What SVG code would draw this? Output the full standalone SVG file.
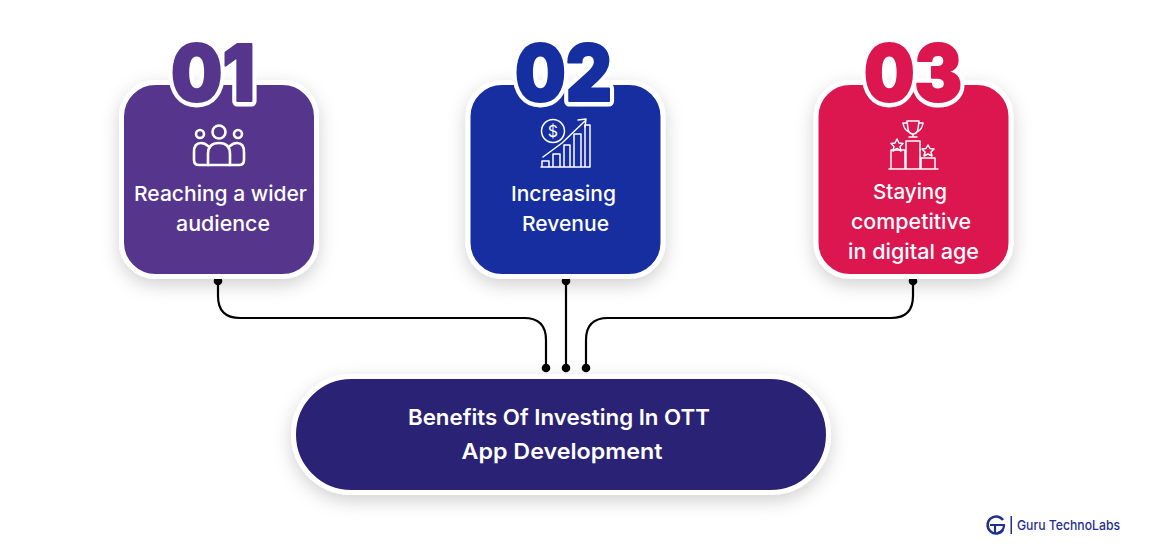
<svg xmlns="http://www.w3.org/2000/svg" width="1159" height="553" viewBox="0 0 1159 553">
<defs>
<style>
.card{stroke:#fff;stroke-width:5;filter:url(#sh)}
.num{font-family:Inter,"Liberation Sans",sans-serif;font-weight:900;font-size:79px;text-anchor:middle}
.halo{stroke:#fff;stroke-width:11px;stroke-linejoin:round}
.fat{stroke-width:2px;stroke-linejoin:round}
.lbl{font-family:Inter,"Open Sans","Liberation Sans",sans-serif;font-weight:500;font-size:20.500px;fill:#fff;text-anchor:middle}
.ttl{font-family:Inter,"Open Sans","Liberation Sans",sans-serif;font-weight:600;font-size:22px;fill:#fff;text-anchor:middle}
.ic{fill:none;stroke:#fff;stroke-width:1.500;stroke-linejoin:round;stroke-linecap:round}
.ic2{fill:none;stroke:#fff;stroke-width:2.600;stroke-linejoin:round;stroke-linecap:round}
.c{fill:none;stroke:#000;stroke-width:2.200}
</style>
<filter id="sh" x="-20%" y="-20%" width="140%" height="145%"><feDropShadow dx="0" dy="6" stdDeviation="9" flood-color="#000" flood-opacity="0.18"/></filter>
</defs>
<rect width="1159" height="553" fill="#fff"/>
<g id="connectors">
<path class="c" d="M218 281V296Q218 318 240 318H524Q546 318 546 340V368"/>
<path class="c" d="M566 281V368"/>
<path class="c" d="M913 281V296Q913 318 891 318H608Q586 318 586 340V368"/>
<g fill="#000"><circle cx="218" cy="281" r="4.300"/><circle cx="566" cy="281" r="4.300"/><circle cx="913" cy="281" r="4.300"/><circle cx="546" cy="368" r="4.300"/><circle cx="566" cy="368" r="4.300"/><circle cx="586" cy="368" r="4.300"/></g>
</g>
<g id="node1">
<rect class="card" x="121.500" y="82.500" width="195" height="194" rx="34" fill="#56368d"/>
<text class="num halo" x="213" y="101" textLength="84" lengthAdjust="spacingAndGlyphs" fill="#fff">01</text>
<text class="num fat" x="213" y="101" textLength="84" lengthAdjust="spacingAndGlyphs" fill="#56368d" stroke="#56368d">01</text>
<g class="ic2">
<circle cx="219" cy="132" r="6.500"/><circle cx="200" cy="134" r="4"/><circle cx="238" cy="134" r="4"/>
<path d="M208 165V154Q208 143 219 143Q230 143 230 154V165Z"/>
<path d="M208 146Q205 143 201 143Q194 143 194 152V160Q194 165 199 165H208"/>
<path d="M230 146Q233 143 237 143Q244 143 244 152V160Q244 165 239 165H230"/>
</g>
<text class="lbl" x="220.500" y="201" textLength="173" lengthAdjust="spacingAndGlyphs">Reaching a wider</text>
<text class="lbl" x="223" y="231" textLength="94" lengthAdjust="spacingAndGlyphs">audience</text>
</g>
<g id="node2">
<rect class="card" x="468" y="82.500" width="195" height="194" rx="34" fill="#152ea0"/>
<text class="num halo" x="563.500" y="101" textLength="97" lengthAdjust="spacingAndGlyphs" fill="#fff">02</text>
<text class="num fat" x="563.500" y="101" textLength="97" lengthAdjust="spacingAndGlyphs" fill="#152ea0" stroke="#152ea0">02</text>
<g class="ic">
<circle cx="553" cy="131" r="11.500"/>
<text x="553" y="137" font-family="Inter,'Liberation Sans',sans-serif" font-size="16" fill="#fff" stroke="none" text-anchor="middle">$</text>
<path d="M543 157L562 143L585 121M578 120L586 119L585 127"/>
<path d="M542 167V161H549V167ZM553 167V154H560V167ZM564 167V145H570V167ZM574 167V134H581V167ZM585 167V125H590V167ZM541 167H590"/>
</g>
<text class="lbl" x="563.500" y="201" textLength="105" lengthAdjust="spacingAndGlyphs">Increasing</text>
<text class="lbl" x="565.500" y="231" textLength="87" lengthAdjust="spacingAndGlyphs">Revenue</text>
</g>
<g id="node3">
<rect class="card" x="816" y="82.500" width="195" height="194" rx="34" fill="#dc164f"/>
<text class="num halo" x="913" y="101" textLength="98" lengthAdjust="spacingAndGlyphs" fill="#fff">03</text>
<text class="num fat" x="913" y="101" textLength="98" lengthAdjust="spacingAndGlyphs" fill="#dc164f" stroke="#dc164f">03</text>
<g class="ic">
<path d="M907 121H919L918 129Q917 134 913 134Q909 134 908 129ZM907 123H903Q904 130 909 132M919 123H923Q922 130 917 132M913 134V137M909 137H917"/>
<path d="M889 169H938M891 168V150H905V168M906 168V141H920V168M921 168V158H935V168"/>
<path d="M897 139L899 143L903 143.500L900 146.500L901 151L897 148.500L893 151L894 146.500L891 143.500L895 143Z"/>
<path d="M928 145L930 148.500L934 149L931 152L932 156L928 154L924 156L925 152L922 149L926 148.500Z"/>
</g>
<text class="lbl" x="910" y="199" textLength="74" lengthAdjust="spacingAndGlyphs">Staying</text>
<text class="lbl" x="911" y="229" textLength="120" lengthAdjust="spacingAndGlyphs">competitive</text>
<text class="lbl" x="913.500" y="259" textLength="131" lengthAdjust="spacingAndGlyphs">in digital age</text>
</g>
<g id="node4">
<rect class="card" x="293.500" y="376.500" width="535" height="116" rx="58" fill="#2c2074"/>
<text class="ttl" x="559" y="425" textLength="302" lengthAdjust="spacingAndGlyphs">Benefits Of Investing In OTT</text>
<text class="ttl" x="562" y="459" textLength="201" lengthAdjust="spacingAndGlyphs">App Development</text>
</g>
<g id="logo">
<path d="M1003 520A8.500 8.500 0 1 0 1003 530" fill="none" stroke="#1f2f8f" stroke-width="2.500"/>
<path d="M990 525H1004Q1004 531 998 533M995 525V534" fill="none" stroke="#1f2f8f" stroke-width="2.200"/>
<rect x="1010.500" y="516" width="1.500" height="18" fill="#1f2f8f"/>
<text x="1017" y="530" font-family="Inter,'Liberation Sans',sans-serif" font-weight="500" font-size="13.500px" fill="#1f2f8f" textLength="103" lengthAdjust="spacingAndGlyphs">Guru TechnoLabs</text>
</g>
</svg>
